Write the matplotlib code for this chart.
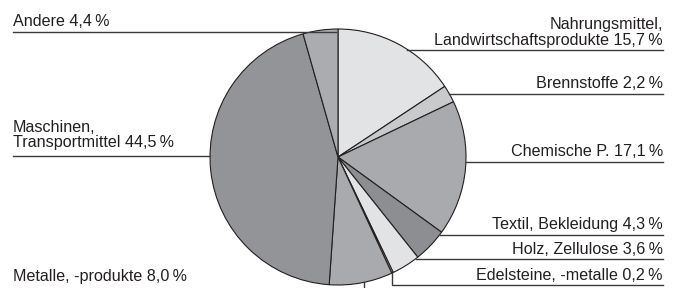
import numpy as np
import matplotlib.pyplot as plt

# Export structure (percent), clockwise from 12 o'clock
categories = [
    "Nahrungsmittel,\nLandwirtschaftsprodukte",
    "Brennstoffe",
    "Chemische P.",
    "Textil, Bekleidung",
    "Holz, Zellulose",
    "Edelsteine, -metalle",
    "Metalle, -produkte",
    "Maschinen,\nTransportmittel",
    "Andere",
]
shares = [15.7, 2.2, 17.1, 4.3, 3.6, 0.2, 8.0, 44.5, 4.4]
labels = [f"{c} " + f"{v:.1f}".replace(".", ",") + "\u2009%"
          for c, v in zip(categories, shares)]

colors = ["#e2e3e5", "#c9cacc", "#a9aaad", "#8d8e91", "#e2e3e5",
          "#d4d5d7", "#a9aaad", "#939497", "#abacaf"]

W, H = 679, 288
CX, CY, R = 338, 157, 128  # pixel coords, y from top

fig = plt.figure(figsize=(W / 100, H / 100), dpi=100)
ax = fig.add_axes([0, 0, 1, 1])
ax.pie(shares, colors=colors, startangle=90, counterclock=False,
       center=(CX, H - CY), radius=R,
       wedgeprops=dict(edgecolor="#231f20", linewidth=0.8))
ax.set_xlim(0, W)
ax.set_ylim(0, H)
ax.set_aspect("equal")
ax.axis("off")

FONT = dict(family=["Liberation Sans", "DejaVu Sans"], fontsize=11.6,
            color="#231f20")
LC = "#3a3a3a"
XR, XL = 663, 13


def edge_x(y, side):
    dy = y - CY
    dx = np.sqrt(max(R * R - dy * dy, 0))
    return CX + dx if side > 0 else CX - dx


# right-side labels: (index, line y in px)
right = [(0, 49.5), (1, 93.5), (2, 161.5), (3, 234.5), (4, 258.5)]
for i, ly in right:
    x0 = edge_x(ly, 1)
    ax.plot([x0, XR], [H - ly, H - ly], color=LC, lw=1.0, zorder=5)
    ax.text(XR, H - ly + 5, labels[i], ha="right", va="baseline",
            linespacing=1.05, **FONT)

# Edelsteine: vertical drop then horizontal
ex, ey = 392, 284.5
ax.plot([ex, ex, XR], [H - (CY + np.sqrt(R * R - (ex - CX) ** 2)), H - ey, H - ey],
        color=LC, lw=1.0, zorder=5)
ax.text(XR, H - ey + 5, labels[5], ha="right", va="baseline", **FONT)

# Metalle: vertical drop out of frame
mx = 364
ax.plot([mx, mx], [H - (CY + np.sqrt(R * R - (mx - CX) ** 2)), -5],
        color=LC, lw=1.0, zorder=5)
ax.text(XL, H - 281, labels[6], ha="left", va="baseline", **FONT)

# Maschinen
ly = 155.5
ax.plot([XL, edge_x(ly, -1)], [H - ly, H - ly], color=LC, lw=1.0, zorder=5)
ax.text(XL, H - ly + 8, labels[7], ha="left", va="baseline",
        linespacing=1.05, **FONT)

# Andere
ly = 31.5
ax.plot([XL, CX - 2], [H - ly, H - ly], color=LC, lw=1.0, zorder=5)
ax.text(XL, H - ly + 6, labels[8], ha="left", va="baseline", **FONT)

fig.savefig("out.png", dpi=100)
